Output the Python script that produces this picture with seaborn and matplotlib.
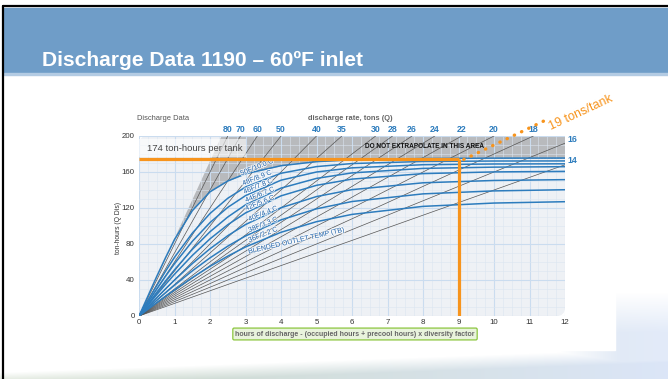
import numpy as np
import pandas as pd
import matplotlib
matplotlib.use("Agg")
import matplotlib.pyplot as plt
import matplotlib.patheffects as pe
import seaborn as sns
from matplotlib.patches import Rectangle, FancyBboxPatch, Polygon

# -----------------------------------------
# Data
# -----------------------------------------
hours = [0, 0.25, 0.5, 0.75, 1, 1.5, 2, 2.5, 3, 4, 5, 6, 8, 10, 12]

t50 = [0, 22.0, 44.0, 65.0, 85.0, 117.0, 138.0, 150.0, 158.0, 167.0, 171.5, 173.5, 175.0, 175.4, 175.5]
t48 = [0, 17.1, 33.8, 49.9, 65.2, 92.0, 113.9, 130.8, 143.3, 158.6, 166.0, 169.4, 171.7, 172.2, 172.3]
t46 = [0, 15.1, 29.9, 44.3, 58.1, 82.9, 103.8, 120.7, 133.7, 150.9, 160.0, 164.6, 168.1, 168.9, 169.1]
t44 = [0, 13.2, 26.3, 39.0, 51.3, 74.0, 93.6, 110.0, 123.5, 142.1, 152.9, 159.0, 164.0, 165.4, 165.9]
t42 = [0, 11.9, 23.7, 35.2, 46.4, 67.2, 85.7, 101.4, 114.5, 133.5, 145.2, 152.1, 158.2, 160.1, 160.7]
t40 = [0, 10.2, 20.3, 30.3, 39.9, 58.2, 74.7, 89.2, 101.6, 120.3, 132.7, 140.4, 148.0, 150.6, 151.5]
t38 = [0, 8.7, 17.4, 25.9, 34.2, 50.1, 64.6, 77.6, 88.9, 106.8, 119.1, 127.2, 135.7, 139.0, 140.3]
t36 = [0, 7.4, 14.7, 21.9, 29.0, 42.6, 55.2, 66.5, 76.7, 93.0, 104.8, 112.9, 121.8, 125.5, 127.0]

curve_names = ["50F/10.0 C", "48F/8.9 C", "46F/7.8 C", "44F/6.7 C",
               "42F/5.6 C", "40F/4.4 C", "38F/3.3 C", "36F/2.2 C"]
# where the curve names sit (hours, ton-hours)
name_x = [3.33, 3.33, 3.36, 3.41, 3.41, 3.50, 3.50, 3.50]
name_y = [165.0, 153.0, 143.7, 134.4, 125.2, 113.3, 101.1, 90.0]

rates = [80, 70, 60, 50, 40, 35, 30, 28, 26, 24, 22, 20, 18, 16, 14]

tank_capacity = 174
design_hours = 9
tank_rate = 19

blue = "#2d7cbd"
label_blue = "#2a6aae"
orange = "#f7941d"

# -----------------------------------------
# Figure + slide background
# -----------------------------------------
sns.set_theme(style="white")
plt.rcParams['font.family'] = ['Liberation Sans', 'DejaVu Sans']

W, H = 668, 379
fig = plt.figure(figsize=(W / 100, H / 100), dpi=100)
fig.patch.set_facecolor("white")

bg = fig.add_axes([0, 0, 1, 1])
bg.set_xlim(0, W)
bg.set_ylim(H, 0)
bg.axis("off")

# soft swoosh at the bottom and glow on the right
yy, xx = np.mgrid[0:H, 0:W]
ytop = 372 - 24 * (xx / W)
band = np.clip((yy - ytop) / 14, 0, 1)
glow = np.clip((yy - 292) / 40, 0, 1) * np.clip((xx - 560) / 60, 0, 1) * 0.8
amt = np.clip(np.maximum(band, glow), 0, 1)[..., None]
mix = (xx / W)[..., None]
col = (1 - mix) * np.array([0.80, 0.85, 0.78]) + mix * np.array([0.86, 0.90, 0.97])
img = (1 - amt) * 1.0 + amt * col
bg.imshow(img, extent=(0, W, H, 0), aspect="auto", zorder=0)

bg.add_patch(Rectangle((4, 76), 611, 274, color="white", zorder=1))
bg.add_patch(Rectangle((4, 8), 664, 65, color="#6f9dc8", zorder=2))
bg.add_patch(Rectangle((4, 73), 664, 2, color="#b3cbe3", zorder=2))
bg.plot([3, 3], [6, H], color="black", lw=1.6, zorder=3)
bg.plot([3, W], [6, 6], color="black", lw=1.6, zorder=3)
bg.text(42, 66, "Discharge Data 1190 \u2013 60\u00baF inlet", color="white",
        fontsize=15.1, fontweight="bold", va="baseline", zorder=4)

# -----------------------------------------
# Chart
# -----------------------------------------
ax = fig.add_axes([139 / W, 1 - 316 / H, 426 / W, 180 / H])
ax.set_xlim(0, 12)
ax.set_ylim(0, 200)
ax.patch.set_visible(False)
for s in ax.spines.values():
    s.set_visible(False)

panel = FancyBboxPatch((0, 0), 1, 1, boxstyle="round,pad=0,rounding_size=0.02",
                       mutation_aspect=426 / 180, transform=ax.transAxes,
                       fc="#eef1f5", ec="none", zorder=0.2, clip_on=False)
ax.add_patch(panel)

# grid
ax.set_xticks(range(13))
ax.set_yticks(range(0, 201, 40))
ax.set_xticks(np.arange(0, 12.01, 0.25), minor=True)
ax.set_yticks(range(0, 201, 10), minor=True)
ax.grid(which="major", color="#cadcef", lw=0.8)
ax.grid(which="minor", color="#dbe5f0", lw=0.4)
ax.set_axisbelow("line")
ax.tick_params(which="both", length=0, labelsize=5.7, colors="#333333")
ax.tick_params(axis="x", pad=2.5)
ax.tick_params(axis="y", pad=3)

# "do not extrapolate" area above the top curve
area = ax.fill_between(hours, t50, 200, color="#b8babd", lw=0, zorder=1)
clip = Polygon([(0, 0), (200 / 86, 200), (12, 200), (12, 0)], closed=True,
               transform=ax.transData)
area.set_clip_path(clip)

# constant discharge-rate lines
for q in rates:
    ax.axline((0, 0), slope=q, color="#555555", lw=0.5, zorder=3)
    if 200 / q <= 12:
        ax.annotate(str(q), (200 / q, 200), xytext=(0, 1.5), textcoords="offset points",
                    ha="center", va="bottom", fontsize=6.3, fontweight="bold",
                    color=blue, annotation_clip=False)
    else:
        ax.annotate(str(q), (12, 12 * q), xytext=(1.5, 3), textcoords="offset points",
                    ha="left", va="center", fontsize=6.3, fontweight="bold",
                    color=blue, annotation_clip=False)

# blended outlet temperature curves
curves = pd.DataFrame({
    "hours": hours * 8,
    "ton_hours": t50 + t48 + t46 + t44 + t42 + t40 + t38 + t36,
    "curve": np.repeat(curve_names, len(hours)),
})
sns.lineplot(data=curves, x="hours", y="ton_hours", units="curve", estimator=None,
             color=blue, lw=1.1, ax=ax, zorder=4, legend=False)
ax.set_xlabel("")
ax.set_ylabel("")

halo = [pe.withStroke(linewidth=1.3, foreground="white", alpha=0.75)]
for name, x, y in zip(curve_names, name_x, name_y):
    ax.text(x, y, name, fontsize=5.1, color=label_blue, rotation=22,
            ha="center", va="center", zorder=6, path_effects=halo)
ax.text(4.46, 83.5, "BLENDED OUTLET TEMP (TB)", fontsize=5.0, color=label_blue,
        rotation=13, ha="center", va="center", zorder=6, path_effects=halo)

ax.text(8.05, 188, "DO NOT EXTRAPOLATE IN THIS AREA", fontsize=4.7,
        fontweight="bold", color="#111111", ha="center", va="center", zorder=6)

# tank selection
ax.add_patch(Rectangle((0, 176.5), 3.0, 20, fc="white", alpha=0.6, ec="none", zorder=5))
ax.text(0.23, 186.5, "174 ton-hours per tank", fontsize=6.8, color="#444444",
        va="center", zorder=6)
ax.plot([0, design_hours], [tank_capacity, tank_capacity], color=orange, lw=2.3,
        solid_capstyle="butt", zorder=7, clip_on=False)
ax.plot([design_hours, design_hours], [0, tank_capacity], color=orange, lw=2.3,
        solid_capstyle="butt", zorder=7)
dot_x = np.array([design_hours + 0.15, 11.58])
ax.plot(dot_x, tank_rate * dot_x, color=orange, lw=2.4,
        linestyle=(0, (0.1, 2.3)), dash_capstyle="round", zorder=7, clip_on=False)
ax.text(12.45, 226, "19 tons/tank", fontsize=9, color=orange, rotation=25,
        ha="center", va="center", zorder=7, clip_on=False)

# labels around the chart
fig.text(137 / W, 1 - 118 / H, "Discharge Data", fontsize=5.4, color="#555555",
         va="center")
fig.text(350 / W, 1 - 119 / H, "discharge rate, tons (Q)", fontsize=5.4,
         fontweight="bold", color="#666666", ha="center", va="center")
fig.text(119 / W, 1 - 228 / H, "ton-hours (Q Dis)", fontsize=4.9, color="#333333",
         rotation=90, ha="center", va="center")
fig.text(355 / W, 1 - 334 / H,
         "hours of discharge - (occupied hours + precool hours) x diversity factor",
         fontsize=5.0, fontweight="bold", color="#666666", ha="center", va="center",
         bbox=dict(boxstyle="round,pad=0.35,rounding_size=0.2", fc="#e9f3dc",
                   ec="#8cc63f", lw=0.9))

fig.savefig("out.png", dpi=100)
